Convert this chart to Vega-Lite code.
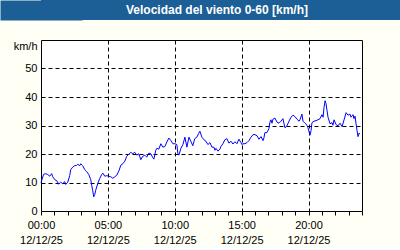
{
  "$schema": "https://vega.github.io/schema/vega-lite/v6.json",
  "background": "#fffff5",
  "padding": 0,
  "spacing": 19,
  "config": {"font": "Liberation Sans"},
  "vconcat": [
    {
      "width": 360,
      "height": 20,
      "view": {"fill": "#1c5e96", "stroke": null},
      "data": {"values": [{"label": "Velocidad del viento 0-60 [km/h]"}]},
      "mark": {"type": "text", "color": "white", "font": "Liberation Sans", "fontWeight": "bold", "fontSize": 12, "dx": -4, "baseline": "middle"},
      "encoding": {
        "text": {"field": "label", "type": "nominal"},
        "y": {"datum": 0.5, "type": "quantitative", "scale": {"domain": [0, 1]},
          "axis": {"title": null, "labels": false, "ticks": false, "grid": false, "domain": true, "domainColor": "#1c5e96", "domainWidth": 82}}
      }
    },
    {
      "width": 321,
      "height": 171,
      "view": {"fill": "#ffffff", "stroke": "#000000", "strokeWidth": 1},
      "data": {"values": [
        {"h":0.00,"v":10.0},{"h":0.20,"v":12.9},{"h":0.35,"v":13.1},{"h":0.50,"v":12.8},{"h":0.65,"v":12.2},{"h":0.80,"v":13.1},{"h":0.88,"v":12.0},{"h":1.03,"v":11.0},{"h":1.18,"v":10.6},{"h":1.32,"v":9.4},{"h":1.47,"v":10.1},{"h":1.62,"v":9.6},{"h":1.77,"v":10.3},{"h":1.85,"v":9.3},{"h":2.00,"v":10.1},{"h":2.15,"v":12.5},{"h":2.22,"v":14.5},{"h":2.37,"v":15.4},{"h":2.52,"v":15.9},{"h":2.67,"v":16.0},{"h":2.75,"v":16.4},{"h":2.90,"v":15.9},{"h":2.97,"v":16.6},{"h":3.12,"v":15.9},{"h":3.27,"v":14.5},{"h":3.42,"v":13.8},{"h":3.57,"v":12.8},{"h":3.72,"v":11.0},{"h":3.79,"v":9.0},{"h":3.87,"v":7.1},{"h":3.94,"v":5.0},{"h":4.02,"v":5.8},{"h":4.09,"v":7.3},{"h":4.24,"v":9.6},{"h":4.39,"v":11.4},{"h":4.54,"v":12.8},{"h":4.62,"v":13.3},{"h":4.77,"v":12.2},{"h":4.92,"v":12.4},
        {"h":5.07,"v":12.2},{"h":5.22,"v":12.0},{"h":5.37,"v":11.5},{"h":5.52,"v":12.0},{"h":5.67,"v":12.6},{"h":5.82,"v":14.0},{"h":5.97,"v":16.1},{"h":6.12,"v":16.6},{"h":6.27,"v":17.5},{"h":6.41,"v":19.2},{"h":6.56,"v":19.9},{"h":6.71,"v":20.6},{"h":6.86,"v":20.1},{"h":7.01,"v":20.6},{"h":7.16,"v":19.6},{"h":7.31,"v":20.1},{"h":7.46,"v":18.0},{"h":7.61,"v":19.2},{"h":7.76,"v":19.6},{"h":7.91,"v":18.9},{"h":8.06,"v":20.3},{"h":8.21,"v":20.1},{"h":8.36,"v":18.7},{"h":8.44,"v":18.2},{"h":8.58,"v":21.3},{"h":8.66,"v":22.0},{"h":8.81,"v":21.7},{"h":8.96,"v":23.6},{"h":9.11,"v":22.4},{"h":9.26,"v":22.6},{"h":9.41,"v":24.2},{"h":9.56,"v":25.6},{"h":9.71,"v":24.7},{"h":9.86,"v":23.6},
        {"h":10.01,"v":23.6},{"h":10.16,"v":23.3},{"h":10.23,"v":20.3},{"h":10.31,"v":19.6},{"h":10.46,"v":22.0},{"h":10.61,"v":23.3},{"h":10.76,"v":25.9},{"h":10.91,"v":22.4},{"h":11.06,"v":25.9},{"h":11.20,"v":24.5},{"h":11.35,"v":22.9},{"h":11.50,"v":25.4},{"h":11.65,"v":25.9},{"h":11.80,"v":27.3},{"h":11.88,"v":28.0},{"h":12.03,"v":25.9},{"h":12.18,"v":25.0},{"h":12.33,"v":24.5},{"h":12.48,"v":23.3},{"h":12.63,"v":24.0},{"h":12.78,"v":22.4},{"h":12.93,"v":22.4},{"h":13.00,"v":21.3},{"h":13.08,"v":22.0},{"h":13.23,"v":21.0},{"h":13.38,"v":21.7},{"h":13.45,"v":22.6},{"h":13.60,"v":23.6},{"h":13.75,"v":25.0},{"h":13.90,"v":25.4},{"h":14.05,"v":23.8},{"h":14.20,"v":24.5},{"h":14.35,"v":23.5},{"h":14.50,"v":24.3},{"h":14.65,"v":23.6},{"h":14.80,"v":25.2},{"h":14.95,"v":24.0},
        {"h":15.02,"v":23.3},{"h":15.10,"v":23.6},{"h":15.25,"v":23.6},{"h":15.40,"v":24.0},{"h":15.55,"v":24.7},{"h":15.70,"v":25.9},{"h":15.85,"v":26.8},{"h":16.00,"v":26.8},{"h":16.15,"v":26.4},{"h":16.30,"v":25.2},{"h":16.45,"v":26.1},{"h":16.60,"v":24.7},{"h":16.67,"v":25.7},{"h":16.74,"v":27.5},{"h":16.89,"v":27.5},{"h":17.04,"v":28.9},{"h":17.12,"v":31.2},{"h":17.19,"v":32.0},{"h":17.27,"v":30.8},{"h":17.34,"v":32.2},{"h":17.49,"v":32.6},{"h":17.64,"v":31.2},{"h":17.79,"v":30.8},{"h":17.94,"v":31.5},{"h":18.09,"v":32.4},{"h":18.17,"v":30.6},{"h":18.24,"v":29.2},{"h":18.39,"v":29.9},{"h":18.54,"v":31.5},{"h":18.69,"v":32.9},{"h":18.84,"v":33.6},{"h":18.99,"v":33.1},{"h":19.14,"v":32.2},{"h":19.29,"v":31.5},{"h":19.36,"v":32.0},{"h":19.51,"v":34.0},{"h":19.59,"v":31.5},{"h":19.74,"v":30.8},{"h":19.89,"v":30.1},{"h":19.96,"v":29.2},
        {"h":20.11,"v":26.6},{"h":20.19,"v":28.2},{"h":20.26,"v":31.0},{"h":20.41,"v":31.5},{"h":20.56,"v":31.7},{"h":20.71,"v":32.0},{"h":20.86,"v":32.4},{"h":21.01,"v":33.8},{"h":21.09,"v":32.9},{"h":21.16,"v":36.3},{"h":21.24,"v":38.7},{"h":21.31,"v":37.7},{"h":21.38,"v":35.4},{"h":21.46,"v":32.9},{"h":21.61,"v":30.6},{"h":21.76,"v":31.0},{"h":21.83,"v":30.1},{"h":21.91,"v":32.0},{"h":22.06,"v":30.3},{"h":22.21,"v":29.9},{"h":22.36,"v":30.8},{"h":22.51,"v":29.6},{"h":22.66,"v":32.0},{"h":22.81,"v":34.5},{"h":22.96,"v":33.6},{"h":23.10,"v":34.0},{"h":23.18,"v":32.9},{"h":23.33,"v":33.8},{"h":23.40,"v":32.4},{"h":23.48,"v":33.3},{"h":23.55,"v":30.8},{"h":23.63,"v":28.2},{"h":23.70,"v":26.1},{"h":23.78,"v":27.3},{"h":23.85,"v":27.0}
      ]},
      "mark": {"type": "line", "color": "#0000ff", "strokeWidth": 1},
      "encoding": {
        "x": {
          "field": "h", "type": "quantitative",
          "scale": {"domain": [0, 24], "nice": false, "zero": false},
          "axis": {
            "title": null,
            "values": [0,1,2,3,4,5,6,7,8,9,10,11,12,13,14,15,16,17,18,19,20,21,22,23,24],
            "domain": false,
            "grid": true,
            "gridColor": "#000000",
            "gridDash": [4, 3],
            "gridWidth": 1,
            "gridOpacity": {"condition": {"test": "datum.value % 5 == 0 && datum.value > 0 && datum.value < 24", "value": 1}, "value": 0},
            "ticks": true,
            "tickSize": 4,
            "tickColor": "#000000",
            "labelExpr": "datum.value % 5 == 0 && datum.value < 24 ? [(datum.value < 10 ? '0' : '') + datum.value + ':00', '12/12/25'] : ''",
            "labelFont": "Liberation Sans",
            "labelFontSize": 11,
            "labelColor": "#000000",
            "labelLineHeight": 15,
            "labelPadding": 4,
            "labelFlush": false,
            "labelOverlap": false
          }
        },
        "y": {
          "field": "v", "type": "quantitative",
          "scale": {"domain": [0, 60], "nice": false},
          "axis": {
            "title": null,
            "values": [0, 10, 20, 30, 40, 50, 60],
            "domain": false,
            "grid": true,
            "gridColor": "#000000",
            "gridDash": [4, 3],
            "gridWidth": 1,
            "gridOpacity": {"condition": {"test": "datum.value > 0 && datum.value < 60", "value": 1}, "value": 0},
            "ticks": true,
            "tickSize": 40,
            "tickColor": "transparent",
            "labelPadding": -36,
            "labelExpr": "datum.value == 60 ? 'km/h' : datum.label",
            "labelBaseline": {"condition": {"test": "datum.value == 60", "value": "top"}, "value": "middle"},
            "labelAlign": "right",
            "labelFont": "Liberation Sans",
            "labelFontSize": 11,
            "labelColor": "#000000",
            "labelOverlap": false,
            "labelFlush": false
          }
        }
      }
    }
  ]
}
